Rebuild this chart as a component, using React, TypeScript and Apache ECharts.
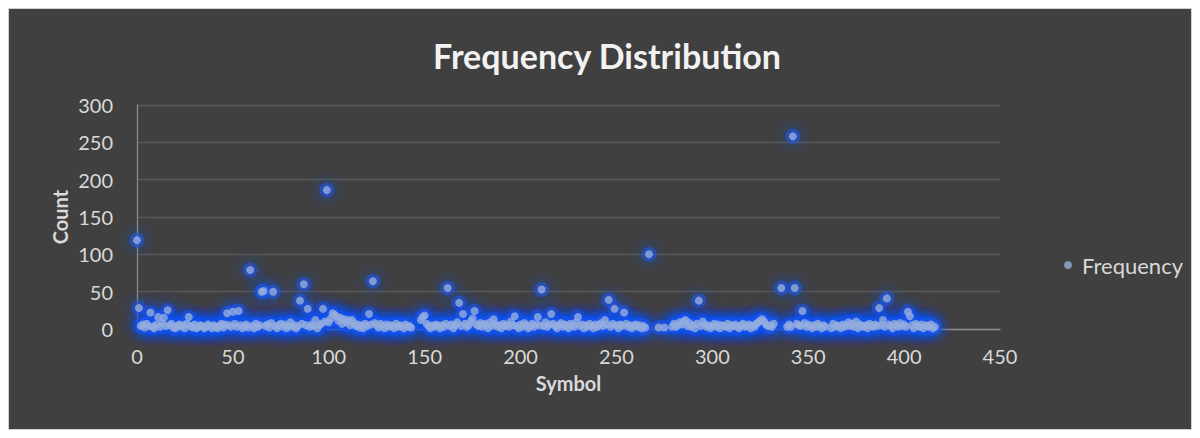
import React, { useEffect, useRef } from "react";
import * as echarts from "echarts";

const TITLE = "Frequency Distribution";
const X_NAME = "Symbol";
const Y_NAME = "Count";
const SERIES_NAME = "Frequency";
const X_MIN = 0;
const X_MAX = 450;
const X_STEP = 50;
const Y_MIN = 0;
const Y_MAX = 300;
const Y_STEP = 50;

// counts indexed by symbol (null = no symbol)
const counts: (number | null)[] = [
  119, 28, 4, 6, 2, 7, 4, 22, 3, 1,
  6, 16, 3, 8, 15, 4, 25, 5, 7, 2,
  1, 4, 6, 3, 5, 1, 7, 16, 4, 2,
  6, 1, 3, 5, 4, 1, 3, 6, 4, 1,
  5, 3, 1, 4, 7, 2, 6, 21, 5, 3,
  23, 7, 3, 24, 5, 1, 4, 6, 2, 79,
  4, 1, 7, 3, 5, 50, 51, 4, 6, 2,
  8, 50, 4, 1, 5, 7, 3, 6, 1, 4,
  9, 3, 5, 1, 4, 38, 7, 60, 5, 27,
  3, 6, 4, 12, 1, 5, 7, 27, 10, 186,
  9, 14, 21, 19, 17, 11, 15, 7, 13, 9,
  12, 5, 12, 8, 4, 6, 2, 5, 1, 7,
  4, 20, 6, 64, 8, 5, 2, 7, 4, 1,
  6, 3, 5, 4, 1, 7, 3, 5, 4, 1,
  6, 3, 4, 2, null, null, null, null, 12, 16,
  18, 7, 4, 1, 5, 3, 6, 4, 1, 5,
  3, 7, 55, 4, 6, 1, 5, 9, 35, 4,
  20, 7, 3, 5, 10, 14, 24, 6, 4, 8,
  3, 7, 5, 1, 9, 4, 13, 6, 3, 5,
  1, 7, 4, 6, 3, 10, 5, 17, 4, 1,
  6, 3, 8, 5, 1, 4, 7, 3, 6, 16,
  5, 53, 4, 9, 3, 6, 20, 7, 4, 1,
  5, 8, 3, 6, 4, 1, 7, 5, 3, 9,
  16, 4, 6, 1, 5, 3, 7, 4, 1, 6,
  3, 5, 8, 4, 12, 6, 39, 3, 7, 27,
  5, 1, 6, 4, 22, 7, 3, 5, 1, 4,
  6, 3, 5, 1, 4, 2, null, 100, null, null,
  null, null, 2, null, null, 2, null, null, null, 3,
  7, 3, 5, 9, 6, 10, 12, 4, 8, 3,
  5, 1, 7, 38, 4, 10, 6, 3, 5, 1,
  4, 7, 3, 6, 1, 5, 4, 3, 7, 1,
  5, 4, 6, 3, 1, 5, 7, 3, 4, 6,
  1, 5, 3, 7, 9, 11, 13, 10, 6, 4,
  5, 3, 7, null, null, null, 55, null, null, 3,
  6, 3, 258, 55, 7, 5, 4, 24, 8, 3,
  6, 4, 1, 5, 3, 7, 4, 1, 5, 3,
  null, null, 1, 7, 3, 5, 4, 1, 6, 3,
  5, 9, 4, 7, 3, 10, 1, 6, 4, 3,
  5, 1, 7, 4, 3, 6, 4, 28, 5, 12,
  3, 41, 6, 4, 1, 7, 5, 3, 8, 4,
  6, 3, 23, 17, 5, 1, 7, 4, 3, 6,
  1, 5, 4, 3, 6, 1, 3,
];

const FONT = "Lato, 'Open Sans', sans-serif";

export default function App() {
  const ref = useRef<HTMLDivElement>(null);
  useEffect(() => {
    if (!ref.current) return;
    const chart = echarts.init(ref.current, undefined, { renderer: "svg" });
    const pts: number[][] = [];
    counts.forEach((v, i) => {
      if (v !== null) pts.push([i, v]);
    });
    const gridLeft = 128;
    const gridTop = 96;
    const gridW = 863;
    const gridH = 224;
    chart.setOption({
      animation: false,
      backgroundColor: "#404040",
      textStyle: { fontFamily: FONT },
      grid: { left: gridLeft, top: gridTop, width: gridW, height: gridH },
      legend: {
        data: [SERIES_NAME],
        left: 1050,
        top: 240,
        icon: "circle",
        itemWidth: 18,
        itemHeight: 8,
        itemGap: 5,
        textStyle: { color: "#d9d9d9", fontSize: 22, fontFamily: FONT },
      },
      xAxis: {
        type: "value",
        min: X_MIN,
        max: X_MAX,
        interval: X_STEP,
        axisLine: { show: true, onZero: false, lineStyle: { color: "#8c8c8c", width: 1.3 } },
        axisTick: { show: false },
        splitLine: { show: false },
        axisLabel: { color: "#d9d9d9", fontSize: 20, margin: 17, fontFamily: FONT },
      },
      yAxis: {
        type: "value",
        min: Y_MIN,
        max: Y_MAX,
        interval: Y_STEP,
        axisLine: { show: true, lineStyle: { color: "#8c8c8c", width: 1.3 } },
        axisTick: { show: false },
        splitLine: { show: true, lineStyle: { color: "#595959", width: 1.3 } },
        axisLabel: { color: "#d9d9d9", fontSize: 20, margin: 24, fontFamily: FONT },
      },
      graphic: [
        {
          type: "text",
          x: 598,
          y: 46,
          style: {
            text: TITLE,
            fill: "#f2f2f2",
            font: `bold 34px ${FONT}`,
            textAlign: "center",
            textVerticalAlign: "middle",
          },
        },
        {
          type: "text",
          x: gridLeft + gridW / 2,
          y: 374,
          style: {
            text: X_NAME,
            fill: "#d9d9d9",
            font: `bold 20px ${FONT}`,
            textAlign: "center",
            textVerticalAlign: "middle",
          },
        },
        {
          type: "text",
          x: 51,
          y: gridTop + gridH / 2,
          rotation: Math.PI / 2,
          style: {
            text: Y_NAME,
            fill: "#d9d9d9",
            font: `bold 20px ${FONT}`,
            textAlign: "center",
            textVerticalAlign: "middle",
          },
        },
      ],
      series: [
        {
          name: "glow",
          type: "scatter",
          data: pts,
          symbol: "circle",
          symbolSize: 15,
          silent: true,
          itemStyle: {
            color: "rgba(30,85,230,0.7)",
            shadowBlur: 14,
            shadowColor: "rgba(20,80,245,1)",
          },
        },
        {
          name: SERIES_NAME,
          type: "scatter",
          data: pts,
          symbol: "circle",
          symbolSize: 8,
          itemStyle: { color: "#93acdf" },
        },
      ],
    });
    return () => chart.dispose();
  }, []);
  return (
    <div
      ref={ref}
      style={{
        width: 1182,
        height: 420,
        border: "1px solid #d0d0d0",
      }}
    />
  );
}
